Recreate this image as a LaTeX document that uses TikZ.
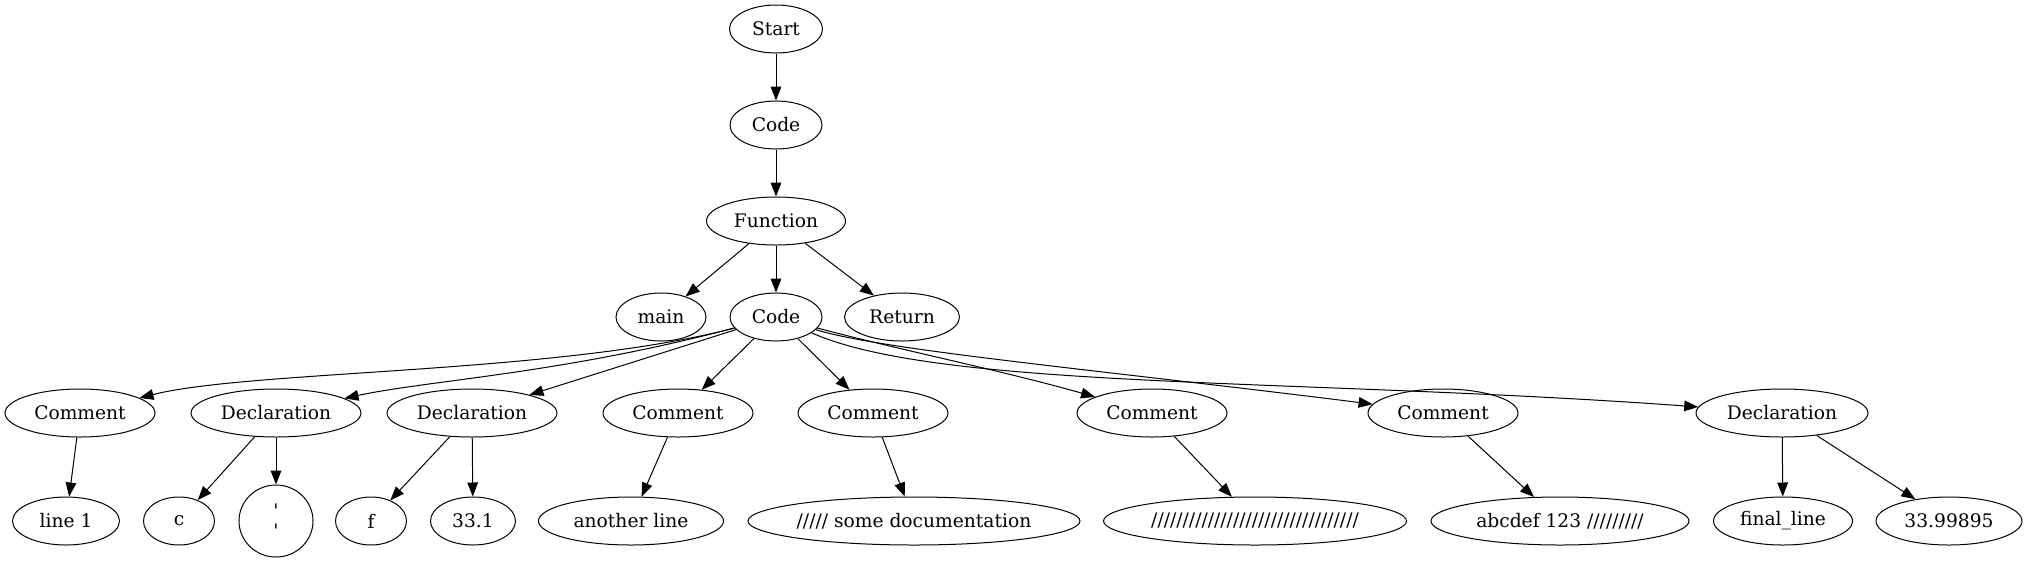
\documentclass[tikz,border=0pt]{standalone}
\usepackage{fontspec}
\setmainfont{DejaVu Serif}
\usetikzlibrary{shapes.geometric,arrows.meta}
\tikzset{
  nd/.style={ellipse, draw, line width=0.75pt, inner sep=0pt, minimum height=36pt,
    minimum width={#1*0.75pt}, font=\fontsize{14pt}{15pt}\selectfont, align=center},
  ed/.style={line width=0.75pt, -{Triangle[length=10.5pt,width=8pt]}},
}
\begin{document}
\begin{tikzpicture}[x=0.75pt,y=-0.75pt]
\useasboundingbox (0,0) rectangle (2027,562);
% rows 0-2
\node[nd=93]  (start) at (776,29)  {Start};
\node[nd=92]  (code1) at (776,125) {Code};
\node[nd=139] (func)  at (776,221) {Function};
\node[nd=90]  (main)  at (661,317) {main};
\node[nd=92]  (code2) at (776,317) {Code};
\node[nd=115] (ret)   at (902,317) {Return};
% row 3
\node[nd=150] (cm1) at (80,413)   {Comment};
\node[nd=170] (dc1) at (276,413)  {Declaration};
\node[nd=170] (dc2) at (472,413)  {Declaration};
\node[nd=150] (cm2) at (678,413)  {Comment};
\node[nd=150] (cm3) at (873,413)  {Comment};
\node[nd=150] (cm4) at (1152,413) {Comment};
\node[nd=150] (cm5) at (1443,413) {Comment};
\node[nd=172] (dc3) at (1782,413) {Declaration};
% row 4
\node[nd=107] (l1)   at (66,521)   {line 1};
\node[nd=71]  (cc)   at (179,521)  {c};
\node[nd=74, minimum height=54pt] (qq) at (276,521) {\textquotesingle\\\textquotesingle};
\node[nd=71]  (ff)   at (371,521)  {f};
\node[nd=85]  (n331) at (473,521)  {33.1};
\node[nd=185] (al)   at (631,521)  {another line};
\node[nd=332] (doc)  at (914,521)  {///// some documentation};
\node[nd=303] (sl)   at (1255,521) {/////////////////////////////////};
\node[nd=258] (ab)   at (1560,521) {abcdef 123 /////////};
\node[nd=139] (fl)   at (1783,521) {final\_line};
\node[nd=146] (n339) at (1949,521) {33.99895};
% edges
\draw[ed] (start) -- (code1);
\draw[ed] (code1) -- (func);
\draw[ed] (func) -- (main);
\draw[ed] (func) -- (code2);
\draw[ed] (func) -- (ret);
\draw[ed] (code2) .. controls (560,374) and (250,370) .. (cm1);
\draw[ed] (code2) .. controls (560,374) and (430,380) .. (dc1);
\draw[ed] (code2) -- (dc2);
\draw[ed] (code2) -- (cm2);
\draw[ed] (code2) -- (cm3);
\draw[ed] (code2) .. controls (900,350) and (1000,370) .. (cm4);
\draw[ed] (code2) .. controls (880,350) and (1100,370) .. (cm5);
\draw[ed] (code2) .. controls (940,390) and (1300,378) .. (dc3);
\draw[ed] (cm1) -- (l1);
\draw[ed] (dc1) -- (cc);
\draw[ed] (dc1) -- (qq);
\draw[ed] (dc2) -- (ff);
\draw[ed] (dc2) -- (n331);
\draw[ed] (cm2) -- (al);
\draw[ed] (cm3) -- (doc);
\draw[ed] (cm4) -- (sl);
\draw[ed] (cm5) -- (ab);
\draw[ed] (dc3) -- (fl);
\draw[ed] (dc3) -- (n339);
\end{tikzpicture}
\end{document}
